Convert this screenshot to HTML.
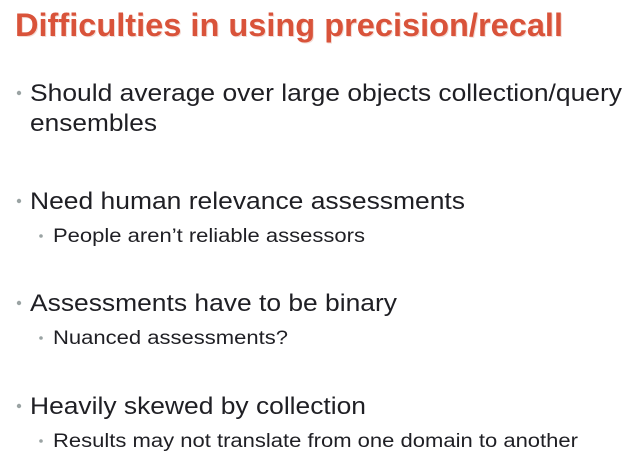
<!DOCTYPE html>
<html><head><meta charset="utf-8"><style>
html,body{margin:0;padding:0;background:#fff;width:639px;height:456px;overflow:hidden}
svg{display:block}
.t{font-family:"Liberation Sans",Arial,sans-serif;font-weight:bold;fill:#d9533a;font-size:32px}
.l1{font-family:"Liberation Sans",Arial,sans-serif;fill:#1f1f24;font-size:24px}
.l2{font-family:"Liberation Sans",Arial,sans-serif;fill:#1f1f24;font-size:19px}
.b{fill:#9aa3a3}
</style></head><body>
<svg width="639" height="456">
<text class="t" x="16" y="37" textLength="548" lengthAdjust="spacingAndGlyphs" style="fill:#ecc4ba" opacity="0.6">Difficulties in using precision/recall</text>
<text class="t" x="15" y="36" textLength="548" lengthAdjust="spacingAndGlyphs">Difficulties in using precision/recall</text>

<circle class="b" cx="19" cy="93" r="2.2"/>
<text class="l1" x="30" y="101" textLength="592" lengthAdjust="spacingAndGlyphs">Should average over large objects collection/query</text>
<text class="l1" x="30" y="131" textLength="127" lengthAdjust="spacingAndGlyphs">ensembles</text>

<circle class="b" cx="19" cy="201" r="2.2"/>
<text class="l1" x="30" y="209" textLength="435" lengthAdjust="spacingAndGlyphs">Need human relevance assessments</text>
<circle class="b" cx="41" cy="236" r="1.8"/>
<text class="l2" x="53" y="242" textLength="312" lengthAdjust="spacingAndGlyphs">People aren’t reliable assessors</text>

<circle class="b" cx="19" cy="303" r="2.2"/>
<text class="l1" x="30" y="311" textLength="367" lengthAdjust="spacingAndGlyphs">Assessments have to be binary</text>
<circle class="b" cx="41" cy="338" r="1.8"/>
<text class="l2" x="53" y="344" textLength="235" lengthAdjust="spacingAndGlyphs">Nuanced assessments?</text>

<circle class="b" cx="19" cy="406" r="2.2"/>
<text class="l1" x="30" y="414" textLength="336" lengthAdjust="spacingAndGlyphs">Heavily skewed by collection</text>
<circle class="b" cx="41" cy="441" r="1.8"/>
<text class="l2" x="53" y="447" textLength="525" lengthAdjust="spacingAndGlyphs">Results may not translate from one domain to another</text>
</svg>
</body></html>
